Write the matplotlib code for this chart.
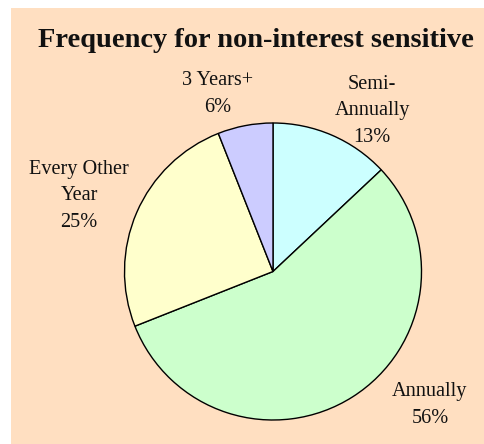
import matplotlib
matplotlib.use("Agg")
import matplotlib.pyplot as plt
from matplotlib.patches import Rectangle

categories = ["Semi-\nAnnually", "Annually", "Every Other\nYear", "3 Years+"]
values = [13, 56, 25, 6]
colors = ["#CCFFFF", "#CCFFCC", "#FFFFCC", "#CCCCFF"]
title = "Frequency for non-interest sensitive"

W, H = 485, 444
fig = plt.figure(figsize=(W / 100, H / 100), dpi=100)
fig.patch.set_facecolor("white")
fig.patches.append(Rectangle((11 / W, 0), 1 - 11 / W, 1 - 8 / H, transform=fig.transFigure,
                             facecolor="#FFDFC1", edgecolor="none", zorder=-5))

cx, cy, r = 273, 271.5, 148.5
ax = fig.add_axes([(cx - r) / W, (H - cy - r) / H, 2 * r / W, 2 * r / H])
ax.set_zorder(2)
ax.set_facecolor("none")
wedges, _ = ax.pie(values, colors=colors, startangle=90, counterclock=False, radius=1,
                   wedgeprops=dict(edgecolor="black", linewidth=1.0))
ax.set_xlim(-1, 1)
ax.set_ylim(-1, 1)
ax.set_aspect("equal")
ax.axis("off")

# label anchor (centre x, last-line baseline) in data units of the pie axes
label_pos = [(0.667, 0.872), (1.057, -1.020), (-1.306, 0.300), (-0.370, 1.074)]
font = "Liberation Serif"
for cat, v, (x, y) in zip(categories, values, label_pos):
    ax.text(x, y, f"{cat}\n{v}%", ha="center", va="baseline", fontsize=14.6,
            family=font, linespacing=1.55, clip_on=False, color="#111111")

fig.text(256 / W, 1 - 47 / H, title, ha="center", va="baseline", fontsize=20.5,
         fontweight="bold", family=font, zorder=3, color="#111111")

fig.savefig("out.png", dpi=100)
